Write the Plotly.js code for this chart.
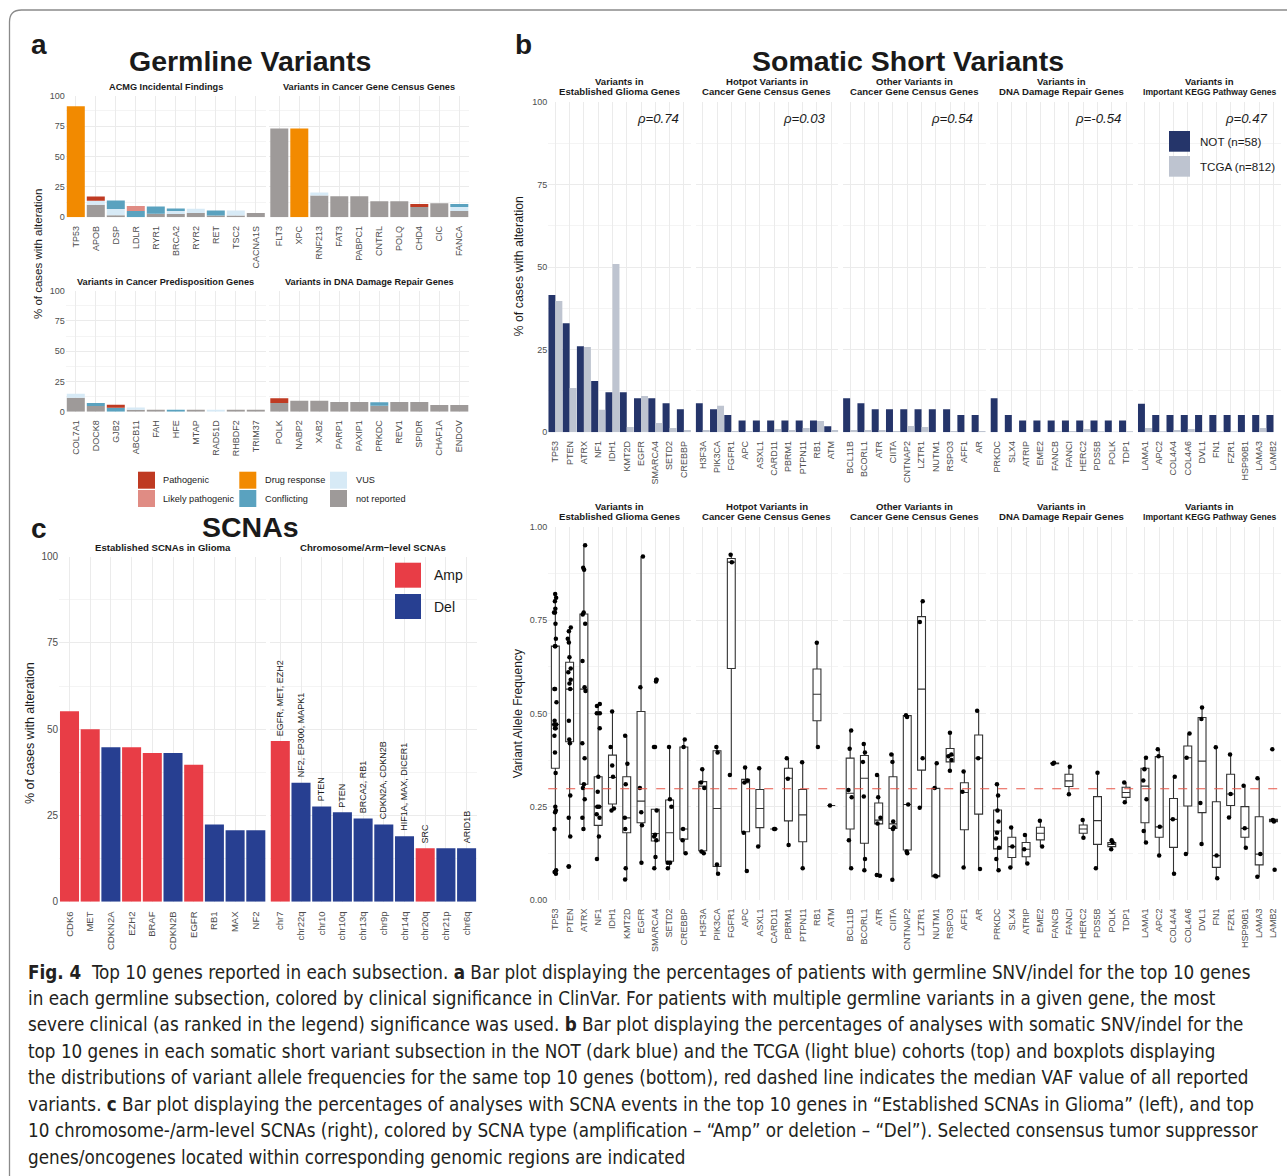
<!DOCTYPE html>
<html><head><meta charset="utf-8">
<script src="https://cdn.plot.ly/plotly-3.0.1.min.js"></script>
<style>html,body{margin:0;padding:0;background:#fff}#chart{width:1287px;height:1176px}</style>
</head><body><div id="chart"></div>
<script>
// ================= DATA =================
// ---- Panel a: germline variants (% of cases), stacked by ClinVar significance
const clinCategories = ['not reported','VUS','Conflicting','Drug response','Likely pathogenic','Pathogenic'];

const acmgGenes = ['TP53','APOB','DSP','LDLR','RYR1','BRCA2','RYR2','RET','TSC2','CACNA1S'];
const acmgNotReported = [0,10.3,1.7,0,3.0,2.7,3.5,1.5,1.5,3.6];
const acmgVUS         = [0,3.4,5.2,0,0,2.5,3.6,0,4.0,0];
const acmgConflicting = [0,0,6.9,5.2,5.8,2.0,0,4.0,0,0];
const acmgDrug        = [91.4,0,0,0,0,0,0,0,0,0];
const acmgLikelyPath  = [0,0,0,4.1,0,0,0,0,0,0];
const acmgPath        = [0,3.4,0,0,0,0,0,0,0,0];

const cgcGenes = ['FLT3','XPC','RNF213','FAT3','PABPC1','CNTRL','POLQ','CHD4','CIC','FANCA'];
const cgcNotReported = [73,0,18,17.3,17.3,13.2,13.2,8.5,11.5,5.2];
const cgcVUS         = [0,0,2.3,0,0,0,0,0,0,3.3];
const cgcConflicting = [0,0,0,0,0,0,0,0,0,2.5];
const cgcDrug        = [0,73,0,0,0,0,0,0,0,0];
const cgcLikelyPath  = [0,0,0,0,0,0,0,0,0,0];
const cgcPath        = [0,0,0,0,0,0,0,2.5,0,0];

const cpgGenes = ['COL7A1','DOCK8','GJB2','ABCB11','FAH','HFE','MTAP','RAD51D','RHBDF2','TRIM37'];
const cpgNotReported = [11.6,4.7,0,1.7,1.7,0,1.7,0,1.7,1.7];
const cpgVUS         = [3.3,0,0,1.7,0,0,0,1.7,0,0];
const cpgConflicting = [0,2.5,3.3,0,0,1.7,0,0,0,0];
const cpgDrug        = [0,0,0,0,0,0,0,0,0,0];
const cpgLikelyPath  = [0,0,0,0,0,0,0,0,0,0];
const cpgPath        = [0,0,2.5,0,0,0,0,0,0,0];

const ddrGermGenes = ['POLK','NABP2','XAB2','PARP1','PAXIP1','PRKDC','REV1','SPIDR','CHAF1A','ENDOV'];
const ddrNotReported = [7.1,9.0,9.0,8.0,8.0,5.0,8.0,8.0,5.5,5.5];
const ddrVUS         = [0,0,0,0,0,0,0,0,0,0];
const ddrConflicting = [0,0,0,0,0,2.8,0,0,0,0];
const ddrDrug        = [0,0,0,0,0,0,0,0,0,0];
const ddrLikelyPath  = [0,0,0,0,0,0,0,0,0,0];
const ddrPath        = [4.0,0,0,0,0,0,0,0,0,0];

// ---- Panel c: SCNAs
const scnaGliomaGenes = ['CDK6','MET','CDKN2A','EZH2','BRAF','CDKN2B','EGFR','RB1','MAX','NF2'];
const scnaGliomaPct   = [55.2,50.0,44.8,44.8,43.1,43.1,39.7,22.4,20.7,20.7];
const scnaGliomaType  = ['Amp','Amp','Del','Amp','Amp','Del','Amp','Del','Del','Del'];
const scnaArmNames = ['chr7','chr22q','chr10','chr10q','chr13q','chr9p','chr14q','chr20q','chr21p','chr6q'];
const scnaArmPct   = [46.6,34.5,27.6,25.9,24.1,22.4,19.0,15.5,15.5,15.5];
const scnaArmType  = ['Amp','Del','Del','Del','Del','Del','Del','Amp','Del','Del'];
const scnaArmGenes = ['EGFR, MET, EZH2','NF2, EP300, MAPK1','PTEN','PTEN','BRCA2, RB1','CDKN2A, CDKN2B','HIF1A, MAX, DICER1','SRC','','ARID1B'];

// ---- Panel b: somatic short variants
const somGlioma  = ['TP53','PTEN','ATRX','NF1','IDH1','KMT2D','EGFR','SMARCA4','SETD2','CREBBP'];
const somHotspot = ['H3F3A','PIK3CA','FGFR1','APC','ASXL1','CARD11','PBRM1','PTPN11','RB1','ATM'];
const somOther   = ['BCL11B','BCORL1','ATR','CIITA','CNTNAP2','LZTR1','NUTM1','RSPO3','AFF1','AR'];
const somDDR     = ['PRKDC','SLX4','ATRIP','EME2','FANCB','FANCI','HERC2','PDS5B','POLK','TDP1'];
const somKEGG    = ['LAMA1','APC2','COL4A4','COL4A6','DVL1','FN1','FZR1','HSP90B1','LAMA3','LAMB2'];

const notGlioma  = [41.5,33.0,26.0,15.5,12.1,12.1,10.3,10.3,8.8,7.0];
const tcgaGlioma = [39.7,13.4,25.8,6.8,50.9,1.6,11.0,2.8,1.3,0.7];
const notHotspot  = [8.8,7.0,5.2,3.6,3.6,3.6,3.6,3.6,3.6,1.8];
const tcgaHotspot = [0.7,8.0,0.4,0.4,0.4,1.0,0.7,1.3,3.4,0.7];
const notOther  = [10.3,8.8,7.0,7.0,7.0,7.0,7.0,7.0,5.2,5.2];
const tcgaOther = [0.7,0.7,0.7,0.4,1.9,1.6,0,0.4,0,0.4];
const notDDR  = [10.3,5.2,3.6,3.6,3.6,3.6,3.6,3.6,3.6,3.6];
const tcgaDDR = [0,0,0,0,0.3,0.4,1.0,0.3,0.2,0.3];
const notKEGG  = [8.6,5.2,5.2,5.2,5.2,5.2,5.2,5.2,5.2,5.2];
const tcgaKEGG = [1.3,0.3,0.7,1.0,0.3,0.3,0.3,0,1.3,0];

const rhoValues = ['0.74','0.03','0.54','-0.54','0.47'];
const medianVAF = 0.298;

// VAF box statistics + individual variants
const vafGliomaQ1  = [0.353,0.424,0.31,0.20,0.257,0.18,0.207,0.158,0.104,0.163];
const vafGliomaMed = [0.47,0.565,0.565,0.25,0.328,0.22,0.265,0.178,0.18,0.19];
const vafGliomaQ3  = [0.68,0.637,0.766,0.33,0.388,0.33,0.505,0.243,0.268,0.41];
const vafGliomaLo  = [0.07,0.17,0.19,0.11,0.24,0.055,0.10,0.085,0.085,0.125];
const vafGliomaHi  = [0.82,0.73,0.948,0.525,0.507,0.44,0.92,0.243,0.41,0.43];
const vafGliomaPts = [
  [0.82,0.81,0.80,0.78,0.77,0.77,0.74,0.70,0.68,0.68,0.565,0.565,0.53,0.48,0.47,0.47,0.46,0.46,0.44,0.395,0.34,0.25,0.24,0.235,0.19,0.08,0.075,0.07],
  [0.73,0.72,0.70,0.69,0.65,0.62,0.61,0.59,0.58,0.565,0.48,0.43,0.42,0.28,0.22,0.17,0.09,0.09],
  [0.95,0.89,0.885,0.77,0.765,0.74,0.64,0.57,0.56,0.42,0.38,0.31,0.30,0.27,0.22,0.19],
  [0.525,0.52,0.50,0.50,0.46,0.33,0.29,0.25,0.25,0.23,0.22,0.17,0.11],
  [0.505,0.41,0.36,0.33,0.245,0.24],
  [0.44,0.365,0.31,0.22,0.19,0.085,0.055],
  [0.92,0.57,0.30,0.235,0.20,0.10],
  [0.59,0.59,0.585,0.41,0.41,0.24,0.175,0.17,0.16,0.115,0.085],
  [0.41,0.27,0.25,0.10,0.10,0.085],
  [0.43,0.41,0.19,0.16,0.125]
];
const vafHotspotQ1  = [0.132,0.09,0.62,0.183,0.194,0.19,0.212,0.156,0.48,0.253];
const vafHotspotMed = [0.305,0.245,0.905,0.314,0.245,0.19,0.326,0.228,0.551,0.253];
const vafHotspotQ3  = [0.317,0.40,0.915,0.323,0.296,0.19,0.353,0.296,0.619,0.253];
const vafHotspotLo  = [0.125,0.07,0.335,0.078,0.143,0.19,0.147,0.085,0.41,0.253];
const vafHotspotHi  = [0.35,0.41,0.925,0.357,0.353,0.19,0.38,0.369,0.689,0.253];
const vafHotspotPts = [
  [0.35,0.315,0.30,0.13,0.125],[0.41,0.395,0.095,0.07],[0.925,0.905,0.335],
  [0.355,0.32,0.315,0.18,0.078],[0.353,0.143],[0.19,0.19],[0.38,0.325,0.147],
  [0.369,0.085],[0.689,0.41],[0.253]
];
const vafOtherQ1  = [0.19,0.152,0.204,0.192,0.134,0.348,0.0625,0.37,0.188,0.23];
const vafOtherMed = [0.286,0.326,0.214,0.204,0.256,0.565,0.0625,0.387,0.288,0.38];
const vafOtherQ3  = [0.38,0.387,0.26,0.33,0.494,0.759,0.299,0.406,0.314,0.442];
const vafOtherLo  = [0.085,0.08,0.067,0.054,0.125,0.247,0.0625,0.346,0.087,0.083];
const vafOtherHi  = [0.454,0.418,0.335,0.393,0.495,0.80,0.366,0.448,0.344,0.507];
const vafOtherPts = [
  [0.454,0.405,0.295,0.275,0.16,0.085],[0.418,0.395,0.37,0.277,0.11,0.08],
  [0.335,0.275,0.22,0.205,0.067,0.065],[0.39,0.37,0.21,0.195,0.19,0.054],
  [0.495,0.49,0.256,0.13,0.125],[0.80,0.745,0.38,0.247],[0.366,0.30,0.065,0.063],
  [0.448,0.39,0.385,0.375,0.346],[0.344,0.29,0.087],[0.507,0.38,0.083]
];
const vafDDRQ1  = [0.137,0.114,0.116,0.161,0.365,0.304,0.179,0.149,0.143,0.275];
const vafDDRMed = [0.185,0.143,0.136,0.179,0.366,0.319,0.19,0.2125,0.149,0.288];
const vafDDRQ3  = [0.241,0.168,0.154,0.195,0.367,0.337,0.201,0.277,0.154,0.302];
const vafDDRLo  = [0.079,0.087,0.098,0.143,0.365,0.283,0.167,0.085,0.136,0.262];
const vafDDRHi  = [0.31,0.194,0.174,0.2125,0.368,0.357,0.214,0.341,0.16,0.315];
const vafDDRPts = [
  [0.31,0.28,0.24,0.21,0.18,0.165,0.14,0.11,0.08],[0.194,0.143,0.087],[0.174,0.136,0.098],
  [0.2125,0.143],[0.368,0.365],[0.357,0.283],[0.214,0.167],[0.341,0.085],[0.16,0.154,0.136],[0.315,0.262]
];
const vafKEGGQ1  = [0.207,0.168,0.141,0.252,0.234,0.0875,0.253,0.168,0.094,0.21];
const vafKEGGMed = [0.305,0.196,0.216,0.381,0.372,0.119,0.284,0.192,0.123,0.2125];
const vafKEGGQ3  = [0.353,0.384,0.272,0.4125,0.489,0.263,0.337,0.25,0.223,0.216];
const vafKEGGLo  = [0.154,0.119,0.07,0.123,0.15,0.058,0.221,0.14,0.0625,0.21];
const vafKEGGHi  = [0.381,0.404,0.33,0.446,0.516,0.409,0.39,0.306,0.326,0.216];
const vafKEGGPts = [
  [0.381,0.35,0.32,0.27,0.185,0.154],[0.404,0.385,0.196,0.119],[0.33,0.216,0.07],
  [0.446,0.381,0.123],[0.516,0.485,0.26,0.15],[0.409,0.119,0.058],[0.39,0.284,0.221],
  [0.306,0.192,0.14],[0.326,0.123,0.0625],[0.404,0.214,0.21,0.081]
];

// ================= STYLE / LAYOUT =================
const W = 1287, H = 1176;
const FONT = 'Liberation Sans, Arial, Helvetica, sans-serif';
const CAPFONT = 'Liberation Sans Narrow, DejaVu Sans Condensed, Liberation Sans, sans-serif';
const px = x => x / W;
const py = y => 1 - y / H;
const clinColors = ['#9E9A99','#D7EAF6','#5AA2BF','#F28A00','#E08C84','#BF3A22'];
const scnaColors = {Amp:'#E83D46', Del:'#273F91'};
const notColor = '#25356A', tcgaColor = '#BEC4D0';

const layout = {
  width: W, height: H, margin: {l:0, r:0, t:0, b:0},
  paper_bgcolor: '#ffffff', plot_bgcolor: 'rgba(0,0,0,0)',
  showlegend: false, barmode: 'overlay', boxmode: 'overlay', boxgap: 0.21,
  font: {family: FONT, color: '#1A1A1A'},
  shapes: [], annotations: []
};
const traces = [];
let axN = 0;
function addSubplot(x0, x1, y0, y1, genes, yo, showY) {
  axN++;
  const s = axN === 1 ? '' : String(axN);
  layout['xaxis' + s] = {
    domain: [px(x0), px(x1)], anchor: 'y' + s, type: 'category',
    categoryorder: 'array', categoryarray: genes, range: [-0.5, genes.length - 0.5],
    tickangle: -90, showgrid: true, gridcolor: '#EBEBEB', gridwidth: 1,
    zeroline: false, showline: false, ticks: 'outside', ticklen: yo.tl || 4,
    tickcolor: 'rgba(0,0,0,0)', tickfont: {family: FONT, size: yo.xfs || 9, color: '#4D4D4D'}, fixedrange: true
  };
  layout['yaxis' + s] = {
    domain: [py(y1), py(y0)], anchor: 'x' + s, range: yo.range,
    tickmode: 'array', tickvals: yo.tickvals, ticktext: yo.ticktext,
    showticklabels: showY, showgrid: true, gridcolor: '#EBEBEB', gridwidth: 1,
    zeroline: false, showline: false, ticks: '',
    tickfont: {family: FONT, size: yo.fs || 9, color: '#4D4D4D'},
    minor: {tickvals: yo.minor, showgrid: true, gridcolor: '#F4F4F4', gridwidth: 1, ticks: ''},
    fixedrange: true
  };
  return {xa: 'x' + s, ya: 'y' + s};
}
function txt(text, x, y, size, extra) {
  const a = {xref:'paper', yref:'paper', x: px(x), y: py(y), text: text, showarrow: false,
    xanchor: 'center', yanchor: 'middle', font: {family: FONT, size: size, color: '#1A1A1A'}};
  layout.annotations.push(Object.assign(a, extra || {}));
}
function rect(x0, y0, x1, y1, color) {
  layout.shapes.push({type:'rect', xref:'paper', yref:'paper', x0: px(x0), x1: px(x1), y0: py(y1), y1: py(y0),
    fillcolor: color, line: {width: 0}, layer: 'above'});
}

// ---- Panel a
const pctAxis = {range:[0,100], tickvals:[0,25,50,75,100], ticktext:['0','25','50','75','100'], minor:[12.5,37.5,62.5,87.5]};
function stacked(genes, series, ax) {
  const base = genes.map(() => 0);
  series.forEach((vals, k) => {
    const b = base.slice();
    vals.forEach((v, i) => { base[i] += v; });
    traces.push({type:'bar', x: genes, y: vals, base: b, width: 0.9, name: clinCategories[k],
      marker: {color: clinColors[k], line: {width: 0}}, xaxis: ax.xa, yaxis: ax.ya, hoverinfo: 'skip'});
  });
}
const aTL = addSubplot(65.8, 265.8, 95.7, 217.3, acmgGenes, pctAxis, true);
stacked(acmgGenes, [acmgNotReported, acmgVUS, acmgConflicting, acmgDrug, acmgLikelyPath, acmgPath], aTL);
const aTR = addSubplot(269.3, 469.3, 95.7, 217.3, cgcGenes, pctAxis, false);
stacked(cgcGenes, [cgcNotReported, cgcVUS, cgcConflicting, cgcDrug, cgcLikelyPath, cgcPath], aTR);
const aBL = addSubplot(65.8, 265.8, 290.7, 411.7, cpgGenes, pctAxis, true);
stacked(cpgGenes, [cpgNotReported, cpgVUS, cpgConflicting, cpgDrug, cpgLikelyPath, cpgPath], aBL);
const aBR = addSubplot(269.3, 469.3, 290.7, 411.7, ddrGermGenes, pctAxis, false);
stacked(ddrGermGenes, [ddrNotReported, ddrVUS, ddrConflicting, ddrDrug, ddrLikelyPath, ddrPath], aBR);

txt('<b>a</b>', 38.5, 45, 28);
txt('<b>Germline Variants</b>', 250.5, 61, 28.5);
txt('<b>ACMG Incidental Findings</b>', 165.8, 87, 9.2);
txt('<b>Variants in Cancer Gene Census Genes</b>', 369.3, 87, 9.2);
txt('<b>Variants in Cancer Predisposition Genes</b>', 165.8, 281.7, 9.2);
txt('<b>Variants in DNA Damage Repair Genes</b>', 369.3, 281.7, 9.2);
txt('% of cases with alteration', 38, 254, 11.5, {textangle: -90});
// legend a
const legA = [[138,471.7,5],[138,490,4],[239.3,471.7,3],[239.3,490,2],[330,471.7,1],[330,490,0]];
legA.forEach(([x, y, k]) => {
  rect(x, y, x + 17, y + 17, clinColors[k]);
  txt(clinCategories[k], x + 23.5, y + 8.7, 9.2, {xanchor: 'left'});
});

// ---- Panel c
const scnaAxis = {range:[0,100], tickvals:[0,25,50,75,100], ticktext:['0','25','50','75','100'], minor:[12.5,37.5,62.5,87.5], fs: 10, xfs: 9.5, tl: 5};
const cL = addSubplot(59.15, 266.15, 556.7, 901.7, scnaGliomaGenes, scnaAxis, true);
traces.push({type:'bar', x: scnaGliomaGenes, y: scnaGliomaPct, width: 0.92,
  marker: {color: scnaGliomaType.map(t => scnaColors[t]), line: {width: 0}}, xaxis: cL.xa, yaxis: cL.ya, hoverinfo: 'skip'});
const cR = addSubplot(269.95, 476.95, 556.7, 901.7, scnaArmNames, scnaAxis, false);
traces.push({type:'bar', x: scnaArmNames, y: scnaArmPct, width: 0.92,
  marker: {color: scnaArmType.map(t => scnaColors[t]), line: {width: 0}}, xaxis: cR.xa, yaxis: cR.ya, hoverinfo: 'skip'});
scnaArmNames.forEach((c, i) => {
  if (!scnaArmGenes[i]) return;
  layout.annotations.push({xref: cR.xa, yref: cR.ya, x: c, y: scnaArmPct[i], text: scnaArmGenes[i],
    textangle: -90, xanchor: 'center', yanchor: 'bottom', yshift: 3, showarrow: false,
    font: {family: FONT, size: 9, color: '#1A1A1A'}});
});
txt('<b>c</b>', 38.5, 528, 28);
txt('<b>SCNAs</b>', 250.5, 527, 28.5);
txt('<b>Established SCNAs in Glioma</b>', 162.6, 547.3, 9.6);
txt('<b>Chromosome/Arm\u2212level SCNAs</b>', 373.4, 547.3, 9.6);
txt('% of cases with alteration', 30, 733, 12.5, {textangle: -90});
rect(395, 562.7, 421, 587.7, scnaColors.Amp);
rect(395, 594, 421, 619, scnaColors.Del);
txt('Amp', 431.7, 575.2, 14, {xanchor: 'left'});
txt('Del', 431.7, 606.5, 14, {xanchor: 'left'});

// ---- Panel b
const somGenes = [somGlioma, somHotspot, somOther, somDDR, somKEGG];
const notVals = [notGlioma, notHotspot, notOther, notDDR, notKEGG];
const tcgaVals = [tcgaGlioma, tcgaHotspot, tcgaOther, tcgaDDR, tcgaKEGG];
const vafQ1 = [vafGliomaQ1, vafHotspotQ1, vafOtherQ1, vafDDRQ1, vafKEGGQ1];
const vafMed = [vafGliomaMed, vafHotspotMed, vafOtherMed, vafDDRMed, vafKEGGMed];
const vafQ3 = [vafGliomaQ3, vafHotspotQ3, vafOtherQ3, vafDDRQ3, vafKEGGQ3];
const vafLo = [vafGliomaLo, vafHotspotLo, vafOtherLo, vafDDRLo, vafKEGGLo];
const vafHi = [vafGliomaHi, vafHotspotHi, vafOtherHi, vafDDRHi, vafKEGGHi];
const vafPts = [vafGliomaPts, vafHotspotPts, vafOtherPts, vafDDRPts, vafKEGGPts];
const stripTop = ['Variants in','Hotpot Variants in','Other Variants in','Variants in','Variants in'];
const stripBot = ['Established Glioma Genes','Cancer Gene Census Genes','Cancer Gene Census Genes','DNA Damage Repair Genes','Important KEGG Pathway Genes'];
const bStart = 548.2, bStep = 147.4, bWidth = 142.8;
const vafAxis = {range:[0,1], tickvals:[0,0.25,0.5,0.75,1], ticktext:[0,0.25,0.5,0.75,1].map(v => v.toFixed(2)), minor:[0.125,0.375,0.625,0.875]};

for (let p = 0; p < 5; p++) {
  const x0 = bStart + p * bStep, x1 = x0 + bWidth;
  const ax = addSubplot(x0, x1, 101.7, 432.3, somGenes[p], pctAxis, p === 0);
  traces.push({type:'bar', x: somGenes[p], y: notVals[p], offset: -0.49, width: 0.49, name: 'NOT (n=58)',
    marker: {color: notColor, line: {width: 0}}, xaxis: ax.xa, yaxis: ax.ya, hoverinfo: 'skip'});
  traces.push({type:'bar', x: somGenes[p], y: tcgaVals[p], offset: 0, width: 0.49, name: 'TCGA (n=812)',
    marker: {color: tcgaColor, line: {width: 0}}, xaxis: ax.xa, yaxis: ax.ya, hoverinfo: 'skip'});
  txt('<i>\u03C1=' + rhoValues[p] + '</i>', x1 - 10.5, 118.3, 13.2, {xanchor: 'right'});
  const sf = p === 4 ? 8.6 : 9.6;
  txt('<b>' + stripTop[p] + '</b>', x0 + bWidth / 2, 81.7, 9.6);
  txt('<b>' + stripBot[p] + '</b>', x0 + bWidth / 2, 91.7, sf);
}
for (let p = 0; p < 5; p++) {
  const x0 = bStart + p * bStep, x1 = x0 + bWidth;
  const ax = addSubplot(x0, x1, 526.7, 900, somGenes[p], vafAxis, p === 0);
  traces.push({type:'box', orientation:'v', x: somGenes[p], q1: vafQ1[p], median: vafMed[p], q3: vafQ3[p],
    lowerfence: vafLo[p], upperfence: vafHi[p], boxpoints: false, fillcolor: '#ffffff',
    line: {color: '#333333', width: 1.1}, whiskerwidth: 0, xaxis: ax.xa, yaxis: ax.ya, hoverinfo: 'skip'});
  const xs = [], ys = [];
  vafPts[p].forEach((arr, i) => arr.forEach(v => { xs.push(somGenes[p][i]); ys.push(v); }));
  traces.push({type:'box', x: xs, y: ys, boxpoints: 'all', jitter: 0.5, pointpos: 0,
    fillcolor: 'rgba(0,0,0,0)', line: {color: 'rgba(0,0,0,0)', width: 0}, whiskerwidth: 0,
    marker: {color: '#000000', size: 4.5}, xaxis: ax.xa, yaxis: ax.ya, hoverinfo: 'skip'});
  const sf = p === 4 ? 8.6 : 9.6;
  txt('<b>' + stripTop[p] + '</b>', x0 + bWidth / 2, 506.7, 9.6);
  txt('<b>' + stripBot[p] + '</b>', x0 + bWidth / 2, 516.7, sf);
}
layout.shapes.push({type:'line', xref:'paper', yref:'y12', x0: px(bStart), x1: px(bStart + 4 * bStep + bWidth),
  y0: medianVAF, y1: medianVAF, line: {color: '#E8574A', width: 1.2, dash: 'dash'}, layer: 'above'});
txt('<b>b</b>', 523, 45, 28);
txt('<b>Somatic Short Variants</b>', 908, 61, 28.5);
txt('% of cases with alteration', 518, 266.5, 12.4, {textangle: -90});
txt('Variant Allele Frequency', 518.3, 714, 12, {textangle: -90});
rect(1169, 131, 1190, 151.7, notColor);
rect(1169, 156, 1190, 176.7, tcgaColor);
txt('NOT (n=58)', 1198.3, 141.7, 11.6, {xanchor: 'left'});
txt('TCGA (n=812)', 1198.3, 166.3, 11.6, {xanchor: 'left'});

// ---- frame
const fp = (x, y) => px(x).toFixed(5) + ',' + py(y).toFixed(5);
layout.shapes.push({type:'path', xref:'paper', yref:'paper',
  path: 'M' + fp(9.5, 1190) + ' L' + fp(9.5, 22) + ' Q' + fp(9.5, 10) + ' ' + fp(21.5, 10) + ' L' + fp(1300, 10),
  line: {color: '#8A8A8A', width: 1.3}, layer: 'above'});

// ---- caption
const captionLines = [
  '<b>Fig. 4</b>  Top 10 genes reported in each subsection. <b>a</b> Bar plot displaying the percentages of patients with germline SNV/indel for the top 10 genes',
  'in each germline subsection, colored by clinical significance in ClinVar. For patients with multiple germline variants in a given gene, the most',
  'severe clinical (as ranked in the legend) significance was used. <b>b</b> Bar plot displaying the percentages of analyses with somatic SNV/indel for the',
  'top 10 genes in each somatic short variant subsection in the NOT (dark blue) and the TCGA (light blue) cohorts (top) and boxplots displaying',
  'the distributions of variant allele frequencies for the same top 10 genes (bottom), red dashed line indicates the median VAF value of all reported',
  'variants. <b>c</b> Bar plot displaying the percentages of analyses with SCNA events in the top 10 genes in \u201CEstablished SCNAs in Glioma\u201D (left), and top',
  '10 chromosome-/arm-level SCNAs (right), colored by SCNA type (amplification \u2013 \u201CAmp\u201D or deletion \u2013 \u201CDel\u201D). Selected consensus tumor suppressor',
  'genes/oncogenes located within corresponding genomic regions are indicated'
];
captionLines.forEach((line, i) => {
  layout.annotations.push({xref:'paper', yref:'paper', x: px(26), y: py(972 + i * 26.45), text: line,
    showarrow: false, xanchor: 'left', yanchor: 'middle', align: 'left',
    font: {family: CAPFONT, size: 18.7, color: '#231F20'}});
});

Plotly.newPlot('chart', traces, layout, {staticPlot: true, displayModeBar: false});
</script></body></html>
